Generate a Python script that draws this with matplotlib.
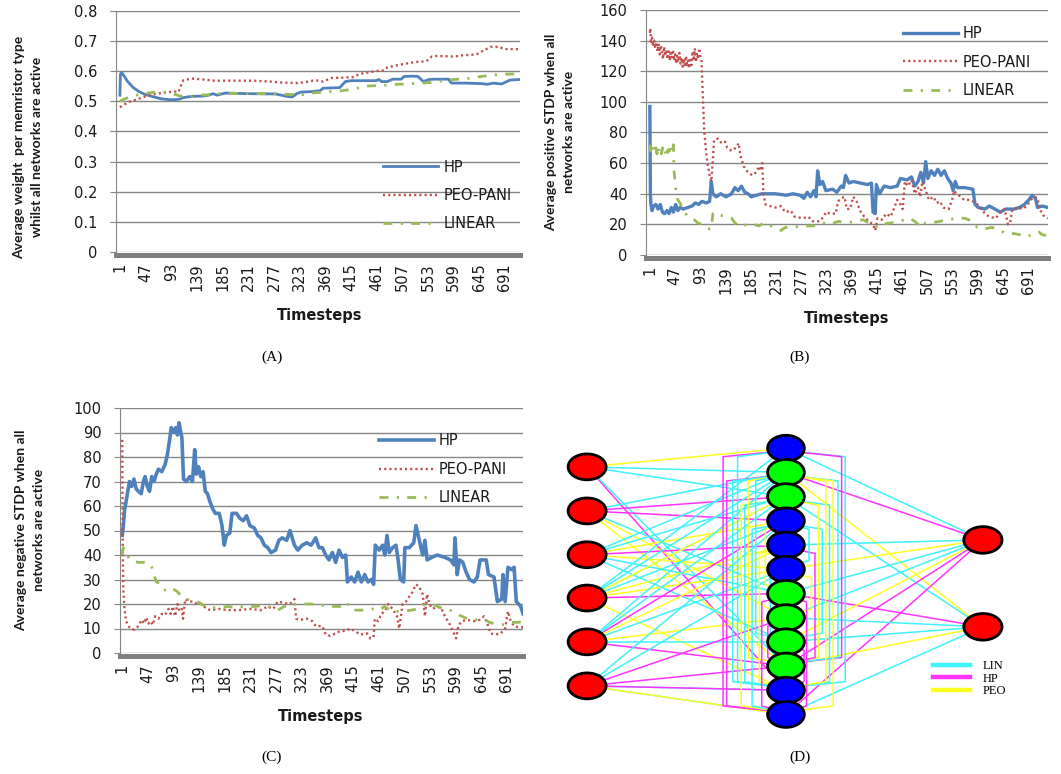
import numpy as np
import matplotlib.pyplot as plt
from matplotlib.patches import Ellipse
from matplotlib.lines import Line2D

plt.rcParams['font.family'] = ['DejaVu Sans']

W, H = 1061, 774

# ---------------- data ----------------
ticks_t = list(range(1, 692, 46))
names = ['HP', 'PEO-PANI', 'LINEAR']

# (A) average weight per memristor type
a_hp = [(1, 0.52), (2, 0.59), (4, 0.595), (8, 0.585), (15, 0.565), (25, 0.545), (35, 0.532),
        (45, 0.523), (60, 0.515), (75, 0.508), (90, 0.505), (100, 0.505), (108, 0.507),
        (115, 0.512), (130, 0.516), (150, 0.517), (160, 0.52), (168, 0.525), (175, 0.52),
        (190, 0.527), (230, 0.525), (280, 0.524), (290, 0.52), (300, 0.516), (310, 0.514),
        (318, 0.525), (325, 0.53), (345, 0.532), (360, 0.535), (365, 0.543), (395, 0.545),
        (400, 0.555), (405, 0.565), (415, 0.568), (440, 0.568), (460, 0.568), (465, 0.572),
        (470, 0.565), (480, 0.565), (490, 0.573), (505, 0.573), (510, 0.582), (525, 0.583),
        (535, 0.582), (545, 0.565), (555, 0.572), (565, 0.573), (590, 0.573), (595, 0.56),
        (620, 0.56), (650, 0.558), (660, 0.556), (670, 0.56), (685, 0.557), (700, 0.57),
        (718, 0.572)]
a_peo = [(1, 0.48), (10, 0.49), (20, 0.5), (30, 0.505), (45, 0.515), (60, 0.522), (75, 0.527),
         (85, 0.53), (100, 0.532), (106, 0.53), (110, 0.55), (115, 0.57), (130, 0.575),
         (150, 0.572), (170, 0.568), (200, 0.568), (240, 0.568), (270, 0.565), (290, 0.562),
         (320, 0.56), (340, 0.565), (350, 0.57), (365, 0.565), (380, 0.577), (400, 0.578),
         (420, 0.58), (430, 0.59), (445, 0.595), (460, 0.6), (475, 0.602), (480, 0.612),
         (500, 0.62), (515, 0.625), (530, 0.63), (550, 0.632), (560, 0.648), (570, 0.65),
         (600, 0.648), (615, 0.652), (640, 0.655), (650, 0.665), (665, 0.68), (680, 0.68),
         (690, 0.673), (718, 0.672)]
a_lin = [(1, 0.5), (10, 0.508), (25, 0.517), (40, 0.524), (55, 0.528), (70, 0.531), (85, 0.529),
         (100, 0.522), (110, 0.517), (125, 0.515), (140, 0.52), (160, 0.521), (180, 0.525),
         (220, 0.526), (290, 0.524), (310, 0.522), (330, 0.522), (350, 0.528), (380, 0.532),
         (400, 0.535), (420, 0.54), (440, 0.55), (470, 0.552), (490, 0.555), (520, 0.558),
         (540, 0.56), (560, 0.562), (580, 0.568), (600, 0.572), (620, 0.574), (640, 0.58),
         (670, 0.587), (700, 0.59), (718, 0.59)]

# (B) average positive STDP
b_hp = [(1, 97), (2, 40), (3, 33), (5, 29), (8, 32), (12, 33), (16, 30), (20, 33), (24, 28),
        (28, 27), (32, 29), (36, 27), (40, 31), (44, 28), (48, 33), (52, 29), (56, 31), (62, 30),
        (70, 31), (78, 32), (84, 34), (90, 33), (96, 35), (104, 34), (110, 35), (113, 48),
        (116, 40), (122, 38), (130, 40), (140, 38), (150, 40), (156, 44), (162, 42), (168, 45),
        (174, 41), (180, 40), (186, 38), (195, 39), (205, 40), (230, 40), (250, 39), (262, 40),
        (275, 39), (282, 37), (288, 41), (294, 38), (300, 42), (304, 38), (307, 55), (311, 46),
        (316, 48), (322, 42), (334, 43), (342, 41), (350, 45), (354, 44), (358, 52), (364, 47),
        (372, 48), (385, 47), (398, 46), (405, 47), (408, 28), (412, 27), (414, 46), (420, 40),
        (428, 45), (440, 44), (452, 45), (458, 50), (470, 49), (478, 51), (484, 45), (490, 48),
        (495, 54), (500, 47), (504, 61), (508, 50), (514, 55), (520, 52), (526, 56), (532, 52),
        (538, 55), (544, 50), (550, 47), (554, 42), (558, 48), (562, 44), (575, 44), (590, 43),
        (594, 33), (600, 31), (612, 30), (620, 32), (630, 30), (640, 28), (650, 30), (665, 30),
        (675, 31), (684, 33), (692, 36), (698, 39), (704, 37), (708, 31), (716, 32), (727, 31)]
b_peo = [(1, 145), (2, 148), (3, 138), (5, 142), (7, 136), (9, 140), (11, 135), (13, 139),
         (15, 133), (17, 138), (19, 131), (21, 137), (23, 133), (25, 128), (27, 136), (29, 130),
         (31, 134), (33, 128), (35, 133), (37, 127), (39, 132), (41, 129), (43, 134), (45, 127),
         (47, 131), (49, 125), (51, 130), (53, 126), (55, 132), (57, 125), (59, 129), (61, 123),
         (63, 128), (65, 124), (67, 130), (69, 123), (71, 127), (73, 122), (75, 129), (77, 124),
         (79, 133), (81, 127), (83, 135), (85, 126), (87, 132), (89, 128), (91, 135), (93, 130),
         (95, 128), (98, 100), (100, 82), (103, 70), (106, 60), (110, 52), (113, 48), (116, 62),
         (118, 75), (125, 76), (132, 73), (138, 74), (142, 70), (150, 68), (158, 70), (163, 73),
         (166, 65), (172, 58), (180, 54), (188, 52), (195, 54), (200, 58), (203, 55), (206, 60),
         (208, 40), (212, 33), (220, 32), (230, 31), (240, 32), (248, 28), (258, 29), (265, 25),
         (280, 24), (290, 25), (298, 22), (310, 22), (318, 25), (322, 28), (330, 27), (340, 27),
         (344, 35), (350, 37), (356, 38), (360, 30), (366, 30), (372, 38), (378, 35), (384, 29),
         (392, 25), (400, 22), (408, 20), (412, 16), (416, 24), (424, 23), (432, 27), (440, 25),
         (448, 32), (452, 36), (458, 33), (462, 30), (466, 48), (472, 45), (478, 49), (484, 40),
         (490, 44), (494, 38), (498, 48), (504, 42), (510, 36), (518, 38), (524, 34), (530, 35),
         (536, 31), (546, 30), (552, 36), (556, 42), (560, 40), (568, 38), (574, 36), (582, 36),
         (590, 35), (598, 33), (606, 30), (612, 27), (620, 25), (632, 24), (640, 28), (648, 30),
         (654, 20), (658, 21), (662, 30), (672, 31), (682, 30), (690, 33), (696, 36), (702, 38),
         (708, 37), (712, 30), (718, 26), (727, 24)]
b_lin = [(1, 72), (2, 68), (4, 70), (6, 67), (8, 71), (10, 68), (12, 70), (14, 66), (16, 71),
         (18, 67), (20, 69), (22, 66), (24, 70), (26, 67), (28, 69), (30, 66), (32, 70), (34, 67),
         (36, 69), (38, 66), (40, 70), (42, 67), (44, 72), (45, 55), (47, 48), (49, 40), (52, 36),
         (56, 34), (62, 30), (68, 26), (75, 24), (82, 23), (88, 21), (96, 20), (104, 18),
         (110, 17), (113, 17), (116, 27), (122, 28), (130, 26), (140, 25), (150, 24), (156, 21),
         (164, 19), (172, 20), (180, 19), (190, 20), (200, 19), (210, 21), (222, 19), (232, 18),
         (240, 16), (248, 18), (260, 18), (280, 19), (300, 19), (315, 21), (330, 20), (345, 22),
         (360, 21), (375, 22), (390, 23), (400, 21), (410, 20), (416, 18), (424, 20), (440, 21),
         (455, 22), (465, 23), (475, 24), (484, 22), (490, 20), (496, 18), (504, 21), (515, 21),
         (530, 22), (545, 23), (560, 24), (575, 24), (590, 22), (598, 18), (610, 17), (625, 18),
         (640, 16), (650, 14), (665, 14), (680, 13), (690, 12), (700, 14), (710, 15), (718, 13),
         (727, 13)]

# (C) average negative STDP
c_hp = [(1, 48), (3, 52), (5, 58), (8, 62), (11, 66), (14, 70), (18, 68), (22, 71), (26, 67),
        (30, 66), (35, 65), (39, 70), (42, 72), (46, 68), (50, 66), (54, 72), (58, 70), (62, 73),
        (66, 75), (72, 74), (78, 77), (82, 81), (86, 87), (89, 92), (93, 90), (97, 92), (100, 89),
        (103, 94), (106, 90), (108, 88), (111, 71), (116, 70), (122, 72), (127, 70), (131, 83),
        (134, 73), (138, 76), (142, 72), (146, 74), (150, 66), (154, 65), (158, 62), (163, 59),
        (168, 57), (175, 57), (180, 52), (184, 44), (188, 48), (194, 49), (198, 57), (206, 57),
        (212, 55), (218, 54), (224, 56), (230, 52), (238, 51), (244, 48), (250, 47), (256, 44),
        (262, 43), (268, 41), (276, 42), (282, 46), (288, 47), (296, 46), (302, 50), (306, 47),
        (310, 44), (316, 42), (324, 44), (332, 45), (340, 44), (348, 47), (354, 43), (360, 43),
        (366, 40), (372, 38), (378, 41), (384, 37), (390, 42), (396, 39), (402, 40), (405, 29),
        (412, 31), (418, 29), (424, 33), (430, 29), (436, 32), (442, 29), (448, 30), (452, 28),
        (455, 44), (462, 42), (468, 44), (472, 40), (476, 48), (480, 41), (486, 43), (492, 44),
        (496, 38), (500, 30), (506, 29), (508, 43), (516, 43), (524, 45), (528, 52), (532, 48),
        (536, 44), (540, 40), (544, 46), (548, 38), (556, 39), (566, 40), (580, 39), (590, 38),
        (596, 36), (598, 47), (602, 32), (606, 38), (612, 37), (618, 33), (624, 30), (632, 29),
        (638, 31), (643, 38), (654, 38), (658, 32), (668, 31), (674, 21), (682, 22), (684, 32),
        (688, 21), (693, 35), (700, 34), (704, 35), (708, 21), (716, 19), (720, 16)]
c_peo = [(1, 87), (2, 40), (3, 26), (5, 18), (8, 13), (12, 11), (16, 10), (22, 9.5), (28, 10.5),
         (32, 12), (36, 13.5), (40, 12), (44, 14.5), (48, 12), (52, 13), (56, 11.5), (60, 15),
         (66, 14), (72, 16), (78, 15.5), (84, 18), (88, 16), (92, 19), (96, 15), (100, 20),
         (104, 17), (108, 18), (110, 14), (114, 22), (120, 21), (128, 21), (136, 20), (144, 20),
         (152, 18), (160, 17.5), (175, 18), (190, 17.5), (210, 17.5), (230, 18), (250, 17.5),
         (262, 19), (272, 18), (280, 21), (290, 20.5), (302, 20), (310, 22), (313, 14),
         (320, 13.5), (332, 14), (342, 13), (348, 11), (360, 11), (366, 7.5), (374, 7), (384, 8),
         (392, 9), (402, 9), (410, 10), (418, 9), (428, 7.5), (440, 8), (446, 6), (452, 6.5),
         (454, 14), (460, 13), (466, 16), (472, 17), (478, 20), (486, 18), (494, 15), (498, 10),
         (504, 20), (510, 21), (516, 23), (522, 25), (528, 28), (534, 27), (540, 24), (544, 15),
         (548, 24), (552, 20), (558, 18), (566, 19), (574, 18), (580, 15), (588, 12), (594, 9),
         (600, 6), (604, 11), (610, 13), (620, 13.5), (632, 13), (642, 13.5), (650, 15),
         (656, 12), (662, 8), (670, 7.5), (680, 8), (688, 10), (693, 17), (698, 13), (704, 11),
         (712, 10.5), (720, 10.5)]
c_lin = [(1, 40), (3, 43), (6, 41), (10, 40), (15, 38), (20, 37.5), (30, 37), (40, 37), (50, 36.5),
         (54, 35), (58, 32), (62, 29), (68, 28.5), (74, 26), (80, 25.5), (90, 26.5), (100, 25),
         (108, 23), (116, 22), (124, 21.5), (132, 21), (140, 20.5), (150, 19), (160, 18.5),
         (175, 18.5), (190, 19), (205, 18.5), (220, 19), (240, 19), (255, 19.5), (268, 18.5),
         (280, 17.5), (292, 19), (305, 20), (320, 20), (340, 20), (360, 19.5), (380, 19),
         (395, 19), (405, 20.5), (412, 17.5), (430, 17.5), (450, 18), (462, 17.5), (472, 19),
         (484, 17), (500, 17), (520, 17.5), (532, 18), (542, 19.5), (552, 20), (562, 19.5),
         (572, 18.5), (582, 18), (595, 17), (605, 15.5), (615, 14.5), (628, 13.5), (640, 13.5),
         (650, 13.8), (660, 12.5), (672, 11.8), (688, 11.5), (700, 12.5), (712, 12.5), (720, 13)]

# (D) network: node layout and connections
layer_x = [-8.22, 0.0, 8.14]
in_y = [0.77, 2.59, 4.4, 6.19, 8.0, 9.82]
hid_y = list(range(12))
out_y = [3.79, 7.38]
hid_col = ['b', 'g', 'g', 'b', 'b', 'b', 'g', 'g', 'g', 'g', 'b', 'b']
in_edges = [(0, 0, 'y'), (0, 1, 'c'), (0, 2, 'c'), (0, 10, 'm'), (0, 9, 'c'),
            (1, 1, 'c'), (1, 2, 'm'), (1, 3, 'm'), (1, 9, 'y'), (1, 6, 'c'), (1, 7, 'y'),
            (2, 1, 'c'), (2, 2, 'c'), (2, 3, 'y'), (2, 4, 'm'), (2, 8, 'c'), (2, 6, 'c'), (2, 5, 'y'),
            (3, 0, 'c'), (3, 1, 'c'), (3, 2, 'c'), (3, 3, 'c'), (3, 4, 'y'), (3, 2, 'y'),
            (3, 6, 'm'), (3, 5, 'y'), (3, 10, 'y'),
            (4, 3, 'm'), (4, 1, 'c'), (4, 2, 'c'), (4, 4, 'y'), (4, 8, 'c'), (4, 9, 'm'),
            (4, 7, 'y'), (4, 5, 'c'),
            (5, 3, 'c'), (5, 5, 'c'), (5, 7, 'm'), (5, 9, 'm'), (5, 10, 'c'), (5, 11, 'c'),
            (5, 11, 'y'), (5, 10, 'm')]
out_edges = [(0, 0, 'c'), (1, 0, 'm'), (1, 1, 'y'), (2, 1, 'c'), (5, 0, 'y'), (6, 0, 'c'),
             (4, 0, 'c'), (7, 0, 'c'), (6, 1, 'm'), (9, 0, 'm'), (11, 0, 'm'), (8, 1, 'c'),
             (9, 1, 'y'), (11, 1, 'c'), (8, 0, 'y'), (7, 1, 'c')]
brackets = [(0, 11, -2.6, 'm'), (1, 11, -2.45, 'm'), (1, 10, -2.2, 'c'), (0, 10, -2.0, 'c'),
            (2, 11, -1.85, 'y'), (2, 10, -1.7, 'c'), (1, 9, -1.55, 'y'), (3, 11, -1.4, 'c'),
            (1, 8, -1.25, 'c'), (4, 10, -1.1, 'y'), (6, 11, -1.0, 'm'), (3, 6, -0.85, 'y'),
            (7, 9, -0.75, 'm'), (5, 8, -0.65, 'c'),
            (0, 10, 2.45, 'c'), (0, 9, 2.3, 'm'), (1, 9, 2.15, 'c'), (1, 11, 1.95, 'y'),
            (2, 10, 1.8, 'c'), (1, 10, 1.65, 'y'), (3, 8, 1.5, 'c'), (2, 9, 1.35, 'y'),
            (4, 9, 1.2, 'm'), (5, 7, 1.05, 'y'), (3, 5, 0.95, 'c'), (6, 11, 0.85, 'm'),
            (8, 10, 0.75, 'm')]

# ---------------- drawing ----------------
styles = {'HP': dict(color='#4F81BD', ls='-', lw=2.0),
          'PEO-PANI': dict(color='#C0504D', ls=(0, (0.9, 1.3)), lw=1.7),
          'LINEAR': dict(color='#9BBB59', ls=(0, (3.2, 3, 0.8, 3)), lw=2.0)}
grey = '#868686'
txt = '#1A1A1A'

fig = plt.figure(figsize=(W / 100, H / 100), dpi=100)


def px_axes(l, t, r, b):
    return fig.add_axes([l / W, 1 - b / H, (r - l) / W, (b - t) / H])


def line_panel(box, series, yticks, xlim, leg_xy, hlen, lw_hp):
    ax = px_axes(*box)
    for name, pts in zip(names, series):
        t, v = np.array(pts).T
        st = dict(styles[name])
        if name == 'HP':
            st['lw'] = lw_hp
        ax.plot(t, v, label=name, **st)
    ax.set_xlim(xlim)
    ax.set_ylim(yticks[0], yticks[-1])
    ax.set_yticks(yticks)
    ax.set_yticklabels([f'{v:g}' for v in yticks])
    ax.set_xticks(ticks_t)
    ax.set_xticklabels([str(t) for t in ticks_t], fontfamily='Lato')
    ax.grid(axis='y', color=grey, lw=1)
    ax.set_axisbelow(True)
    for s in ['top', 'right']:
        ax.spines[s].set_visible(False)
    ax.spines['left'].set_color(grey)
    ax.spines['bottom'].set_color('#7F7F7F')
    ax.spines['bottom'].set_linewidth(3.6)
    ax.spines['bottom'].set_position(('outward', 2))
    ax.tick_params(axis='x', length=0, pad=6, labelsize=10.5, labelrotation=90,
                   labelcolor=txt)
    ax.tick_params(axis='y', length=4.3, color=grey, pad=9, labelsize=10.5, labelcolor=txt)
    leg = ax.legend(loc='upper left', bbox_to_anchor=leg_xy, frameon=False, fontsize=10.5,
                    handlelength=hlen, handletextpad=0.35, labelspacing=0.9,
                    borderpad=0, borderaxespad=0)
    for t in leg.get_texts():
        t.set_color(txt)
    return ax


line_panel((116, 10.7, 520, 252), [a_hp, a_peo, a_lin],
           [0, 0.1, 0.2, 0.3, 0.4, 0.5, 0.6, 0.7, 0.8], (-6, 718), (0.661, 0.383), 3.77, 2.0)
line_panel((646, 10, 1048, 255), [b_hp, b_peo, b_lin],
           list(range(0, 161, 20)), (-6, 727), (0.639, 0.933), 3.77, 2.4)
line_panel((120, 408, 523, 653), [c_hp, c_peo, c_lin],
           list(range(0, 101, 10)), (-3, 720), (0.642, 0.896), 3.77, 2.6)


def ftext(x, y, s, **kw):
    fig.text(x / W, 1 - y / H, s, ha='center', va='center', **kw)


lab = dict(rotation=90, fontsize=10, fontweight='bold', linespacing=1.55,
           multialignment='center', family='Lato', color=txt)
ftext(28, 147, 'Average weight  per memristor type\nwhilst all networks are active', **lab)
ftext(560, 132, 'Average positive STDP when all\nnetworks are active', **lab)
ftext(30, 530, 'Average negative STDP when all\nnetworks are active', **lab)
for x, y in [(320, 315), (847, 318), (321, 717)]:
    ftext(x, y, 'Timesteps', fontsize=10.5, fontweight='bold', color=txt)
for x, y, s in [(272, 357, '(A)'), (800, 357, '(B)'), (272, 757, '(C)'), (800, 757, '(D)')]:
    ftext(x, y, s, fontsize=11, family='Liberation Serif')

# network diagram
ax = px_axes(560, 425, 1040, 735)
ax.set_xlim(-9.34, 10.5)
ax.set_ylim(11.85, -0.96)
ax.axis('off')
ecol = {'c': '#40F2FA', 'm': '#FF33FF', 'y': '#FFFF22'}
for i, h, c in in_edges:
    ax.plot([layer_x[0], layer_x[1]], [in_y[i], hid_y[h]], color=ecol[c], lw=1.1, zorder=1)
for h, o, c in out_edges:
    ax.plot([layer_x[1], layer_x[2]], [hid_y[h], out_y[o]], color=ecol[c], lw=1.1, zorder=1)
for h1, h2, xb, c in brackets:
    ax.plot([0, xb, xb, 0], [hid_y[h1] + 0.1, hid_y[h1] + 0.35, hid_y[h2] - 0.35, hid_y[h2] - 0.1],
            color=ecol[c], lw=1.1, zorder=1)
ncol = {'r': '#FF0000', 'g': '#00FF00', 'b': '#0000FF'}
for y in in_y:
    ax.add_patch(Ellipse((layer_x[0], y), 1.57, 1.07, fc=ncol['r'], ec='k', lw=2, zorder=3))
for k, (y, c) in enumerate(zip(hid_y, hid_col)):
    ax.add_patch(Ellipse((layer_x[1], y), 1.52, 1.07, fc=ncol[c], ec='k', lw=2, zorder=3 + k))
for y in out_y:
    ax.add_patch(Ellipse((layer_x[2], y), 1.58, 1.1, fc=ncol['r'], ec='k', lw=2, zorder=3))
hd = [Line2D([], [], color=ecol[c], lw=3.2) for c in 'cmy']
ax.legend(hd, ['LIN', 'HP', 'PEO'], loc='upper left', bbox_to_anchor=(0.777, 0.242),
          frameon=False, prop={'family': 'Liberation Serif', 'size': 9}, handlelength=3,
          handletextpad=1.0, labelspacing=0.05, borderpad=0, borderaxespad=0)

fig.savefig('out.png', dpi=100)
